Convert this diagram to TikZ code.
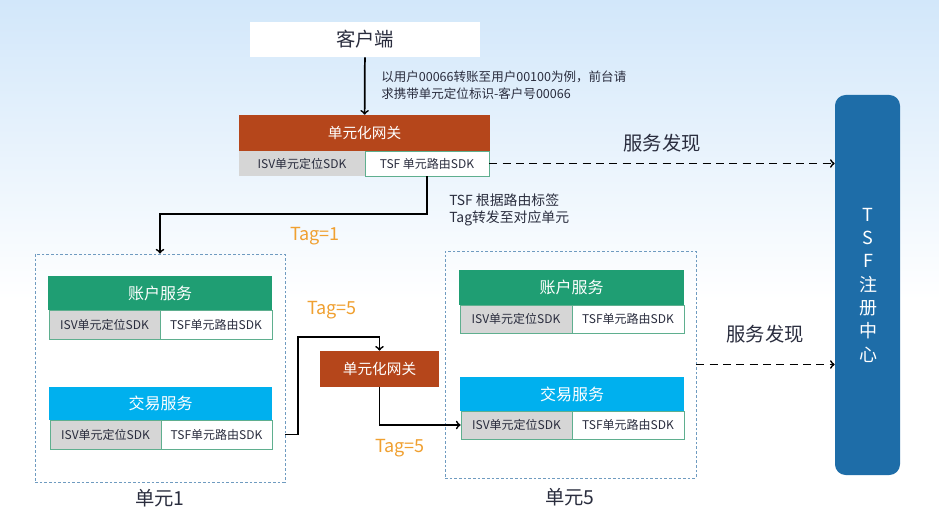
\documentclass[tikz,border=0pt]{standalone}
\usepackage{fontspec}
\setmainfont{Noto Sans CJK SC}
\usetikzlibrary{positioning}
\definecolor{gatecol}{HTML}{B5461B}
\definecolor{acccol}{HTML}{1F9E73}
\definecolor{tradecol}{HTML}{00B0EE}
\definecolor{isvcol}{HTML}{D6D6D6}
\definecolor{sdkline}{HTML}{5FAF8F}
\definecolor{regcol}{HTML}{1E6DA8}
\definecolor{tagcol}{HTML}{F0A030}
\definecolor{txtcol}{HTML}{2A2D3E}
\definecolor{unitline}{HTML}{6F9BC0}
\definecolor{skycol}{HTML}{D2E7FA}
\def\px{0.75pt}
\tikzset{
  box/.style = {inner sep=0pt, text=txtcol},
  gate/.style = {box, fill=gatecol, text=white, font=\fontsize{11}{13}\selectfont},
  svc/.style = {box, text=white, font=\fontsize{12}{14}\selectfont},
  isv/.style = {box, fill=isvcol, draw=sdkline, line width=0.6pt, font=\fontsize{9}{11}\selectfont},
  tsfsdk/.style = {box, fill=white, draw=sdkline, line width=0.6pt, font=\fontsize{9}{11}\selectfont},
  unitbox/.style = {box, draw=unitline, line width=0.6pt, dash pattern=on 2pt off 1.5pt},
  tag/.style = {text=tagcol, font=\fontsize{13.5}{15}\selectfont},
  note/.style = {text=txtcol, align=left, inner sep=0pt},
  big/.style = {text=txtcol, font=\fontsize{14.5}{16}\selectfont},
  link/.style = {line width=1.3pt, ->},
  find/.style = {line width=1.3pt, dash pattern=on 6pt off 4pt, ->}
}
\begin{document}
\begin{tikzpicture}[x=0.75pt, y=-0.75pt]
	\useasboundingbox (0,0) rectangle (939,520);
	\shade[top color=skycol, bottom color=white] (0,0) rectangle (939,300);
	\fill[white] (0,300) rectangle (939,520);
	% top: client and gateway
	\node [box, fill=white, minimum width=230*\px, minimum height=35*\px, font=\fontsize{14.5}{16}\selectfont] (client) at (365,39.5) {客户端};
	\node [gate, minimum width=251*\px, minimum height=36*\px] (gw1) at (364.5,133) {单元化网关};
	\node [isv, draw=none, minimum width=126*\px, minimum height=25*\px] (isv1) at (302,163.5) {ISV单元定位SDK};
	\node [tsfsdk, minimum width=124*\px, minimum height=25*\px] (tsf1) at (427,163.5) {TSF 单元路由SDK};
	\node [note, anchor=west, font=\fontsize{9.4}{12.7}\selectfont] (ask) at (381,85) {以用户00066转账至用户00100为例，前台请\\求携带单元定位标识-客户号00066};
	\node [note, anchor=west, font=\fontsize{10.4}{12.2}\selectfont] (route) at (449,210) {TSF 根据路由标签\\Tag转发至对应单元};
	% unit 1
	\node [unitbox, minimum width=250*\px, minimum height=228*\px] (unitA) at (160,368) {};
	\node [big] (unitAname) at (160,498) {单元1};
	\node [svc, fill=acccol, minimum width=224*\px, minimum height=34*\px] (accA) at (160,293) {账户服务};
	\node [isv, minimum width=111*\px, minimum height=29*\px] (isvA1) at (104.5,324.5) {ISV单元定位SDK};
	\node [tsfsdk, minimum width=112*\px, minimum height=29*\px] (tsfA1) at (216,324.5) {TSF单元路由SDK};
	\node [svc, fill=tradecol, minimum width=223*\px, minimum height=33*\px] (tradeA) at (160.5,403.5) {交易服务};
	\node [isv, minimum width=111*\px, minimum height=29*\px] (isvA2) at (105.5,434.5) {ISV单元定位SDK};
	\node [tsfsdk, minimum width=111*\px, minimum height=29*\px] (tsfA2) at (216.5,434.5) {TSF单元路由SDK};
	% gateway between units
	\node [gate, minimum width=119*\px, minimum height=36*\px] (gw2) at (379.5,369) {单元化网关};
	% unit 5
	\node [unitbox, minimum width=251*\px, minimum height=227*\px] (unitB) at (570.5,364.5) {};
	\node [big] (unitBname) at (570,497) {单元5};
	\node [svc, fill=acccol, minimum width=225*\px, minimum height=35*\px] (accB) at (571.5,287.5) {账户服务};
	\node [isv, minimum width=112*\px, minimum height=28*\px] (isvB1) at (516,319) {ISV单元定位SDK};
	\node [tsfsdk, minimum width=112*\px, minimum height=28*\px] (tsfB1) at (628,319) {TSF单元路由SDK};
	\node [svc, fill=tradecol, minimum width=224*\px, minimum height=34*\px] (tradeB) at (572,394) {交易服务};
	\node [isv, minimum width=111*\px, minimum height=28*\px] (isvB2) at (516.5,425) {ISV单元定位SDK};
	\node [tsfsdk, minimum width=112*\px, minimum height=28*\px] (tsfB2) at (628,425) {TSF单元路由SDK};
	% registry
	\node [box, fill=regcol, rounded corners=8pt, minimum width=65*\px, minimum height=380*\px] (reg) at (867.5,285) {};
	\node [text=white, align=center, inner sep=0pt, font=\fontsize{13.5}{17.5}\selectfont] (regname) at (868,285) {T\\S\\F\\注\\册\\中\\心};
	% tags and labels
	\node [tag] (tagA) at (315,236) {Tag=1};
	\node [tag] (tagB) at (332,310) {Tag=5};
	\node [tag] (tagC) at (400,448) {Tag=5};
	\node [big] (findA) at (662,143) {服务发现};
	\node [big] (findB) at (765,334) {服务发现};
	% connectors
	\coordinate (bendA) at (427,214);
	\coordinate (bendB) at (298,337);
	\draw [link] (client) -- (gw1);
	\draw [link] (tsf1.south) -- (bendA) -| (unitA.north);
	\draw [link] (unitA.east |- tsfA2.east) -| (bendB) -| (gw2.north);
	\draw [link] (gw2.south) |- (isvB2.west);
	\draw [find] (tsf1.east) -- (tsf1.east -| reg.west);
	\draw [find] (unitB.east) -- (unitB.east -| reg.west);
\end{tikzpicture}
\end{document}
